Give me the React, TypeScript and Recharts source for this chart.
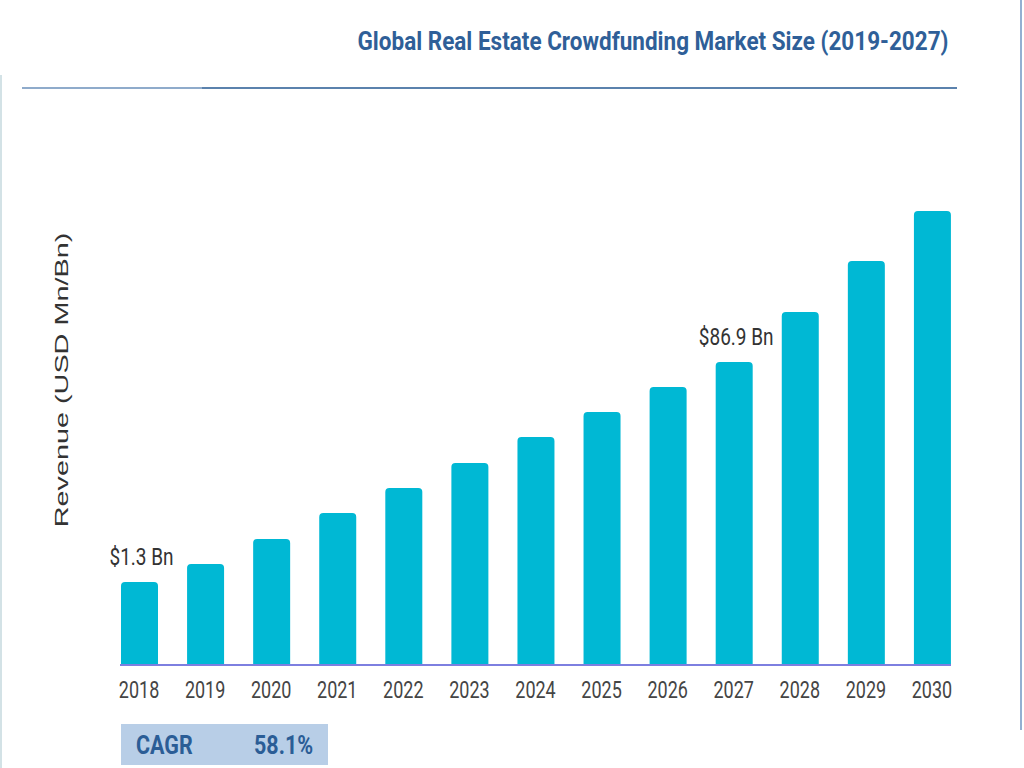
import React from 'react';
import { BarChart, Bar, XAxis, YAxis, LabelList } from 'recharts';

const years = ['2018', '2019', '2020', '2021', '2022', '2023', '2024', '2025', '2026', '2027', '2028', '2029', '2030'];
const revenue = [83, 101, 126, 152, 177, 202, 228, 253, 278, 303, 353, 404, 454];
const barLabels = ['$1.3 Bn', '', '', '', '', '', '', '', '', '$86.9 Bn', '', '', ''];
const title = 'Global Real Estate Crowdfunding Market Size (2019-2027)';
const yAxisTitle = 'Revenue (USD Mn/Bn)';
const cagrLabel = 'CAGR';
const cagrValue = '58.1%';

const data = years.map((year, i) => ({ year, revenue: revenue[i], label: barLabels[i] }));

const YearTick = (props: any) => {
  const { x, y, payload } = props;
  return (
    <text
      transform={`translate(${x},${y + 25}) scale(1,1.3)`}
      textAnchor="middle"
      fontFamily="Roboto, sans-serif"
      fontSize={18}
      fill="#454545"
    >
      {payload.value}
    </text>
  );
};

const BarValueLabel = (props: any) => {
  const { x, y, width, value } = props;
  if (!value) return null;
  return (
    <text
      transform={`translate(${x + width / 2 + 2},${y - 17}) scale(1,1.25)`}
      textAnchor="middle"
      fontFamily="Roboto, sans-serif"
      fontSize={19}
      fill="#333333"
    >
      {value}
    </text>
  );
};

export default function App() {
  return (
    <div style={{ position: 'absolute', left: 0, top: 0, width: 1024, height: 768, background: '#ffffff', overflow: 'hidden' }}>
      <div style={{ position: 'absolute', left: 0, top: 75, width: 2, height: 693, background: '#d3e2e6' }} />
      <div style={{ position: 'absolute', left: 1020, top: 0, width: 2, height: 730, background: '#93b0d2' }} />
      <div
        style={{
          position: 'absolute',
          left: 653,
          top: 26,
          transform: 'translateX(-50%) scale(1,1.12)',
          whiteSpace: 'nowrap',
          fontFamily: 'Roboto, sans-serif',
          fontWeight: 700,
          fontSize: 22.5,
          lineHeight: '30px',
          color: '#2f5f98',
        }}
      >
        {title}
      </div>
      <div style={{ position: 'absolute', left: 22, top: 87, width: 180, height: 2, background: '#8fabcb' }} />
      <div style={{ position: 'absolute', left: 202, top: 87, width: 755, height: 2, background: '#5b82ad' }} />
      <div
        style={{
          position: 'absolute',
          left: 62,
          top: 380,
          transform: 'translate(-50%,-50%) rotate(-90deg) scaleX(1.6)',
          whiteSpace: 'nowrap',
          fontFamily: '"Liberation Sans", Arial, sans-serif',
          fontSize: 18,
          lineHeight: '20px',
          color: '#333333',
        }}
      >
        {yAxisTitle}
      </div>
      <BarChart
        width={1024}
        height={768}
        data={data}
        margin={{ top: 165, right: 73, left: 120, bottom: 63 }}
        style={{ position: 'absolute', left: 0, top: 0 }}
      >
        <XAxis
          dataKey="year"
          height={40}
          padding={{ left: -14, right: -14 }}
          axisLine={{ stroke: '#7d7fe0', strokeWidth: 2 }}
          tickLine={false}
          tick={<YearTick />}
          interval={0}
        />
        <YAxis hide domain={[0, 500]} />
        <Bar dataKey="revenue" fill="#00b8d4" barSize={37} radius={[4, 4, 0, 0]} isAnimationActive={false}>
          <LabelList dataKey="label" content={<BarValueLabel />} />
        </Bar>
      </BarChart>
      <div
        style={{
          position: 'absolute',
          left: 121,
          top: 724,
          width: 207,
          height: 41,
          background: '#b8cee7',
        }}
      />
      <div
        style={{
          position: 'absolute',
          left: 136,
          top: 730,
          transform: 'scale(1,1.2)',
          transformOrigin: 'left top',
          fontFamily: 'Roboto, sans-serif',
          fontWeight: 700,
          fontSize: 21.5,
          lineHeight: '26px',
          color: '#2b5d96',
          whiteSpace: 'nowrap',
        }}
      >
        {cagrLabel}
      </div>
      <div
        style={{
          position: 'absolute',
          left: 254,
          top: 730,
          transform: 'scale(1,1.2)',
          transformOrigin: 'left top',
          fontFamily: 'Roboto, sans-serif',
          fontWeight: 700,
          fontSize: 21.5,
          lineHeight: '26px',
          color: '#2b5d96',
          whiteSpace: 'nowrap',
        }}
      >
        {cagrValue}
      </div>
    </div>
  );
}
